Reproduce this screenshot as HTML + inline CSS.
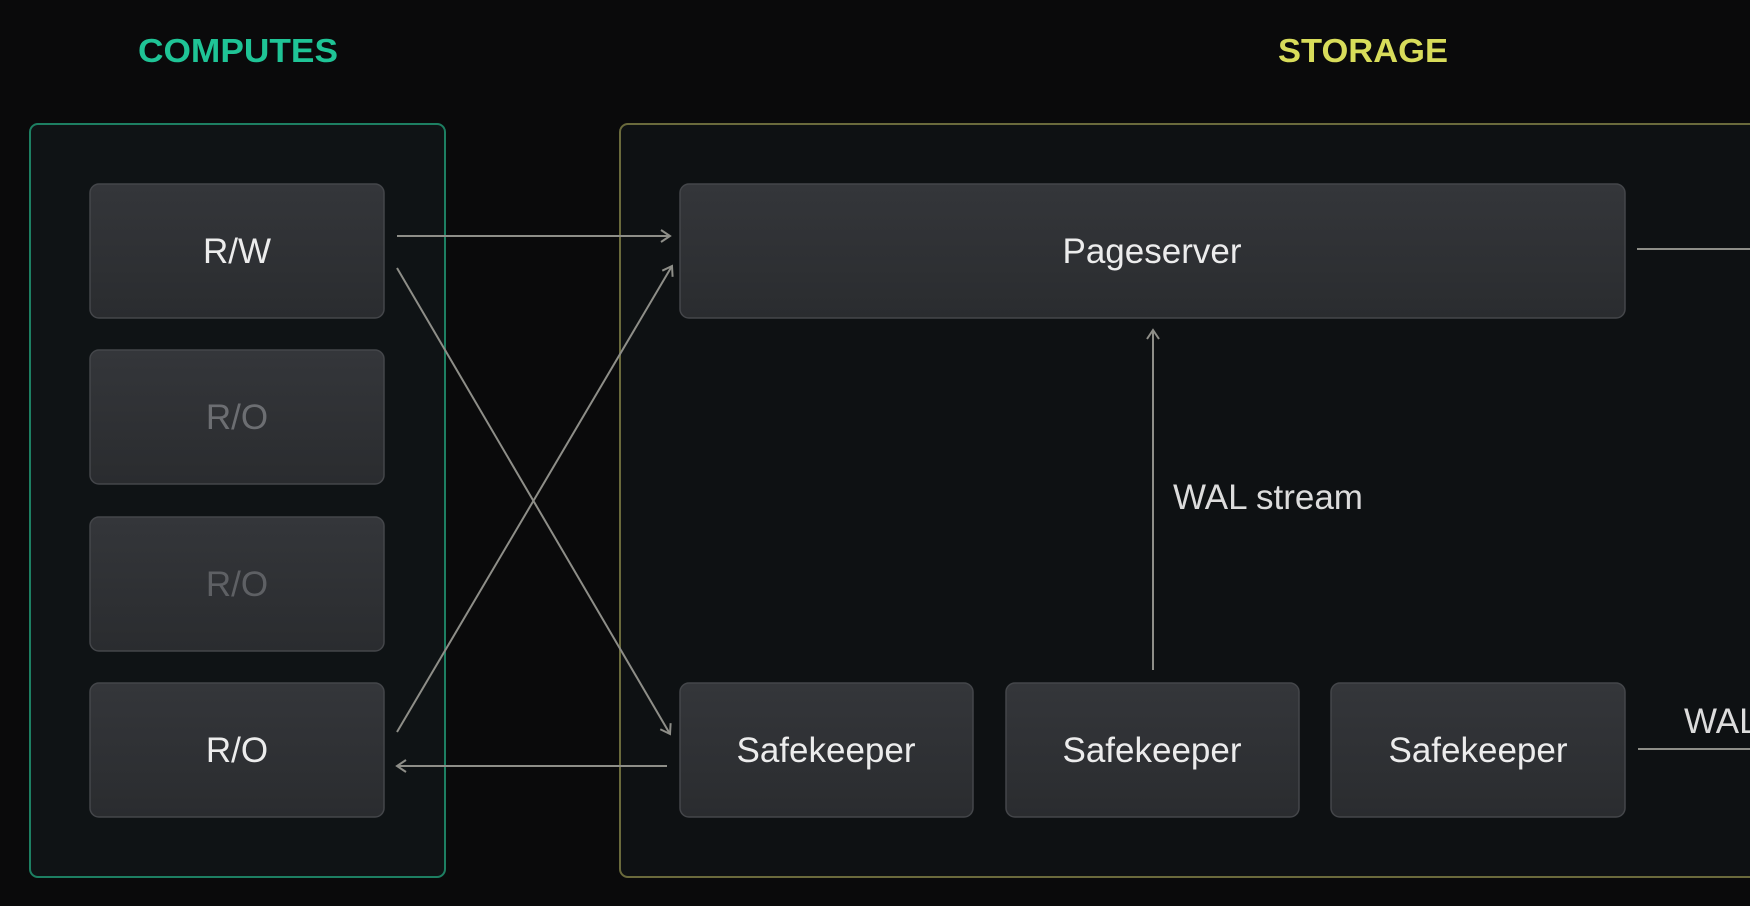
<!DOCTYPE html>
<html><head><style>
html,body{margin:0;padding:0;background:#0a0a0b;width:1750px;height:906px;overflow:hidden}
svg{display:block}
</style></head><body>
<svg width="1750" height="906" viewBox="0 0 1750 906" xmlns="http://www.w3.org/2000/svg" font-family="Liberation Sans, sans-serif">
<defs>
<linearGradient id="g" x1="0" y1="0" x2="0" y2="1"><stop offset="0" stop-color="#34363a"/><stop offset="1" stop-color="#2a2c2f"/></linearGradient>
<marker id="a" markerWidth="14" markerHeight="14" refX="11" refY="7" orient="auto" markerUnits="userSpaceOnUse"><path d="M2,1 L11,7 L2,13" fill="none" stroke="#8e8e88" stroke-width="2"/></marker>
</defs>
<rect width="1750" height="906" fill="#0a0a0b"/>
<text x="238" y="62" text-anchor="middle" fill="#1fc496" font-size="33" font-weight="bold" textLength="200" lengthAdjust="spacingAndGlyphs">COMPUTES</text>
<text x="1363" y="62" text-anchor="middle" fill="#d8dc5a" font-size="33" font-weight="bold" textLength="170" lengthAdjust="spacingAndGlyphs">STORAGE</text>
<rect x="30" y="124" width="415" height="753" rx="8" fill="#0f1315" stroke="#1d7f62" stroke-width="2"/>
<rect x="620" y="124" width="1150" height="753" rx="8" fill="#0e1113" stroke="#6a6a3c" stroke-width="2"/>
<g stroke="#44464a" stroke-width="1.5" fill="url(#g)">
<rect x="90" y="184" width="294" height="134" rx="9"/>
<rect x="90" y="350" width="294" height="134" rx="9"/>
<rect x="90" y="517" width="294" height="134" rx="9"/>
<rect x="90" y="683" width="294" height="134" rx="9"/>
<rect x="680" y="184" width="945" height="134" rx="9"/>
<rect x="680" y="683" width="293" height="134" rx="9"/>
<rect x="1006" y="683" width="293" height="134" rx="9"/>
<rect x="1331" y="683" width="294" height="134" rx="9"/>
</g>
<g font-size="35" text-anchor="middle" fill="#ececec">
<text x="237" y="263">R/W</text>
<text x="237" y="429" fill="#6c6e72">R/O</text>
<text x="237" y="596" fill="#5e6064">R/O</text>
<text x="237" y="762">R/O</text>
<text x="1152" y="263">Pageserver</text>
<text x="826" y="762">Safekeeper</text>
<text x="1152" y="762">Safekeeper</text>
<text x="1478" y="762">Safekeeper</text>
<text x="1173" y="509" text-anchor="start" fill="#dcdcdc">WAL stream</text>
<text x="1684" y="733" text-anchor="start" fill="#dcdcdc">WAL</text>
</g>
<g stroke="#8e8e88" stroke-width="2" fill="none">
<line x1="397" y1="236" x2="670" y2="236" marker-end="url(#a)"/>
<line x1="397" y1="268" x2="670" y2="734" marker-end="url(#a)"/>
<line x1="397" y1="732" x2="672" y2="266" marker-end="url(#a)"/>
<line x1="667" y1="766" x2="397" y2="766" marker-end="url(#a)"/>
<line x1="1153" y1="670" x2="1153" y2="330" marker-end="url(#a)"/>
<line x1="1637" y1="249" x2="1750" y2="249"/>
<line x1="1638" y1="749" x2="1750" y2="749"/>
</g>
</svg>
</body></html>
